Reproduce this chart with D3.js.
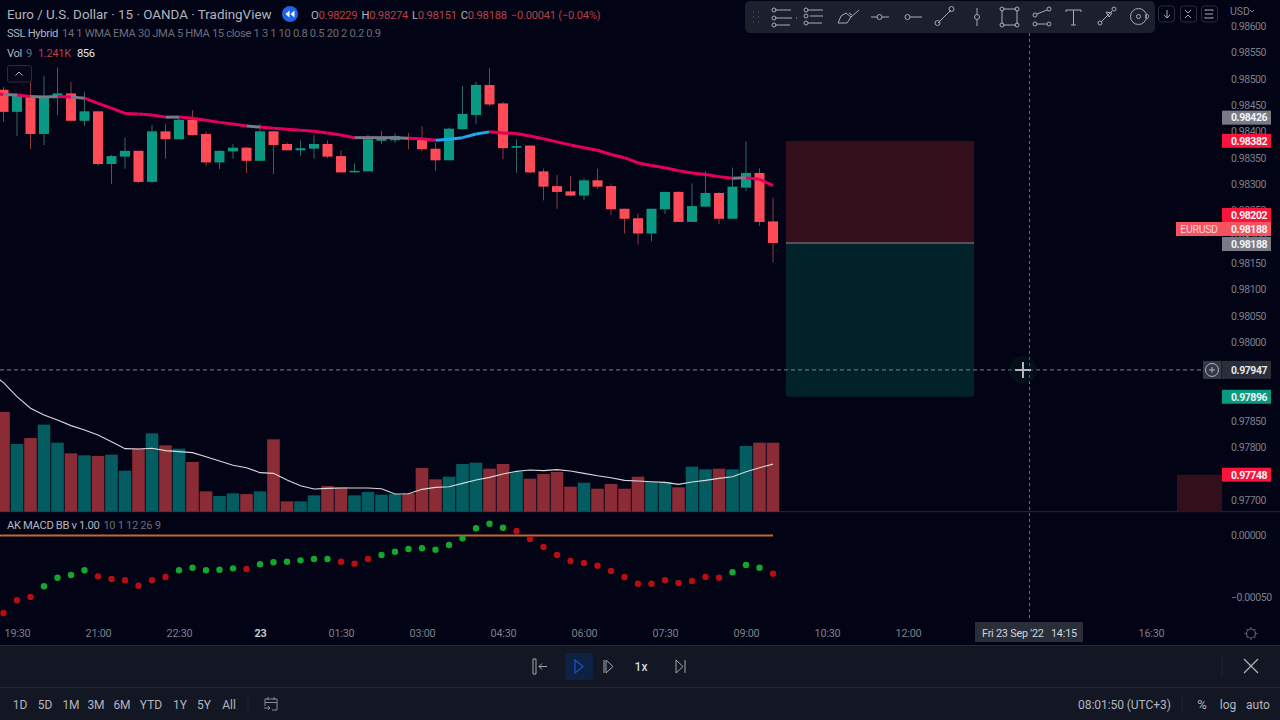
<!DOCTYPE html>
<html>
<head>
<meta charset="utf-8">
<script src="https://cdn.jsdelivr.net/npm/d3@7/dist/d3.min.js"></script>
<style>
  html, body { margin: 0; padding: 0; background: #020314; overflow: hidden; }
  svg { display: block; }
  text { font-family: Roboto, "Noto Sans", sans-serif; }
</style>
</head>
<body>
<script>
// Candles, first bar is Thu 19:15, one bar every 15 minutes
const opens = [0.98479,0.98437,0.98467,0.98395,0.98463,0.98472,0.98420,0.98438,0.98338,0.98352,0.98363,0.98304,0.98400,0.98385,0.98422,0.98395,0.98341,0.98362,0.98369,0.98344,0.98400,0.98376,0.98364,0.98367,0.98376,0.98353,0.98322,0.98324,0.98382,0.98383,0.98388,0.98386,0.98367,0.98345,0.98404,0.98431,0.98488,0.98453,0.98369,0.98373,0.98324,0.98296,0.98286,0.98278,0.98307,0.98296,0.98253,0.98235,0.98206,0.98252,0.98285,0.98228,0.98257,0.98283,0.98234,0.98293,0.98321,0.98229];
const highs = [0.98484,0.98472,0.98497,0.98505,0.98521,0.98494,0.98475,0.98438,0.98355,0.98388,0.98363,0.98412,0.98414,0.98426,0.98440,0.98400,0.98364,0.98376,0.98370,0.98414,0.98401,0.98379,0.98383,0.98393,0.98383,0.98364,0.98339,0.98393,0.98401,0.98396,0.98397,0.98410,0.98378,0.98407,0.98486,0.98494,0.98520,0.98456,0.98385,0.98373,0.98329,0.98317,0.98315,0.98311,0.98329,0.98299,0.98253,0.98244,0.98253,0.98285,0.98286,0.98301,0.98324,0.98285,0.98331,0.98381,0.98330,0.98274];
const lows = [0.98418,0.98391,0.98366,0.98374,0.98431,0.98420,0.98410,0.98334,0.98300,0.98329,0.98302,0.98302,0.98348,0.98385,0.98392,0.98334,0.98328,0.98348,0.98321,0.98344,0.98319,0.98364,0.98353,0.98348,0.98349,0.98322,0.98322,0.98324,0.98376,0.98378,0.98366,0.98362,0.98325,0.98345,0.98404,0.98414,0.98448,0.98347,0.98321,0.98320,0.98269,0.98253,0.98276,0.98269,0.98291,0.98241,0.98206,0.98185,0.98191,0.98243,0.98228,0.98228,0.98257,0.98224,0.98234,0.98287,0.98220,0.98151];
const closes = [0.98437,0.98467,0.98395,0.98467,0.98472,0.98420,0.98438,0.98338,0.98353,0.98363,0.98304,0.98400,0.98385,0.98422,0.98393,0.98341,0.98363,0.98369,0.98344,0.98400,0.98374,0.98364,0.98368,0.98376,0.98352,0.98322,0.98325,0.98385,0.98388,0.98391,0.98385,0.98366,0.98345,0.98405,0.98433,0.98488,0.98451,0.98368,0.98372,0.98322,0.98295,0.98285,0.98278,0.98307,0.98295,0.98252,0.98234,0.98206,0.98253,0.98285,0.98228,0.98258,0.98283,0.98234,0.98295,0.98321,0.98228,0.98188];

// SSL Hybrid baseline and the state of each segment (p pink, g grey, b blue)
const sslBefore = 0.98471;
const sslLine = [0.98470,0.98469,0.98466,0.98465,0.98466,0.98465,0.98463,0.98453,0.98444,0.98434,0.98433,0.98431,0.98427,0.98427,0.98425,0.98421,0.98417,0.98414,0.98410,0.98408,0.98406,0.98404,0.98402,0.98400,0.98397,0.98393,0.98388,0.98388,0.98388,0.98388,0.98387,0.98386,0.98383,0.98385,0.98388,0.98395,0.98399,0.98397,0.98396,0.98391,0.98386,0.98380,0.98374,0.98369,0.98364,0.98356,0.98350,0.98340,0.98335,0.98331,0.98325,0.98321,0.98318,0.98314,0.98311,0.98312,0.98309,0.98297];
const sslState = ("pgpggpg" + "pppppp" + "g" + "ppppp" + "g" + "ppppppp" + "gggg" + "pp" + "bbbb" + "pppppppppppppppppp" + "g" + "pp").split("");

// Volume and its moving average
const volumes = [1794,1218,1326,1566,1242,1050,1014,1002,1026,738,1134,1410,1194,1134,894,366,282,330,318,366,1302,186,186,294,462,438,294,354,306,318,330,786,582,630,858,882,774,858,714,594,678,714,450,522,414,498,414,630,534,534,438,810,762,774,762,1182,1242,1241];
const volBefore = 2500;
const volMa = [2322,2070,1860,1740,1650,1548,1470,1380,1260,1134,1128,1140,1098,1080,1062,990,912,834,792,702,690,570,468,408,420,426,426,426,414,318,324,402,438,450,510,570,618,678,726,750,738,756,732,690,648,612,564,552,540,528,492,534,564,600,630,720,792,856];

// AK MACD BB dots
const macdDots = [-0.00063,-0.000527,-0.0005,-0.000413,-0.000343,-0.000321,-0.000283,-0.000332,-0.000354,-0.000364,-0.000408,-0.000364,-0.000337,-0.000283,-0.000262,-0.000283,-0.000278,-0.000267,-0.000272,-0.000234,-0.000218,-0.000213,-0.000202,-0.000191,-0.000191,-0.000213,-0.000229,-0.000191,-0.000159,-0.000132,-0.00011,-0.000104,-0.000115,-0.000077,-0.000023,0.000059,0.000096,0.000063,0.000037,-0.000028,-0.000093,-0.000159,-0.000207,-0.000224,-0.000246,-0.000289,-0.000337,-0.000392,-0.000392,-0.000364,-0.000386,-0.00037,-0.000337,-0.000343,-0.000299,-0.00024,-0.000262,-0.000311];
const macdUp = ("rrr" + "gggg" + "rrrrrr" + "ggggg" + "r" + "gggggg" + "rrr" + "gggggggggg" + "rrrrrrrrrrrrrrrr" + "ggg" + "r").split("");

// Axis labels
const priceTicks = [0.986,0.9855,0.985,0.9845,0.984,0.9835,0.983,0.9825,0.982,0.9815,0.981,0.9805,0.98,0.9795,0.979,0.9785,0.978,0.977];
const macdTicks = [0,-0.0005];
const timeTickBars = [1,7,13,19,25,31,37,43,49,55,61,67,85];
const timeTickLabels = ["19:30","21:00","22:30","23","01:30","03:00","04:30","06:00","07:30","09:00","10:30","12:00","16:30"];
const rangeLabels = ["1D","5D","1M","3M","6M","YTD","1Y","5Y","All"];
const rangeCenters = [20,45,71,96,122,151,180,204,229];

// Short position tool: stop, entry, target, and the crosshair
const stopPrice = 0.98382, entryPrice = 0.98188, targetPrice = 0.97896;
const cursorBar = 76, cursorPrice = 0.97947;

const width = 1280, height = 720;
const bg = "#020314", upColor = "#0a9a84", downColor = "#ff4a58";

const svg = d3.select("body").append("svg").attr("width", width).attr("height", height);
svg.append("rect").attr("width", width).attr("height", height).attr("fill", bg);

const bars = d3.range(opens.length);
const x = d3.scaleLinear().domain([0, 57]).range([3.5, 773]);
const y = d3.scaleLinear().domain([0.98, 0.986]).range([342, 26]);
const yVol = d3.scaleLinear().domain([0, 1241]).range([511.7, 442.7]);
const yMacd = d3.scaleLinear().domain([0, -0.0005]).range([535.5, 597]);

// position tool
const toolX0 = 786, toolX1 = 974;
svg.append("rect").attr("x", toolX0).attr("y", y(stopPrice)).attr("width", toolX1 - toolX0)
  .attr("height", y(entryPrice) - y(stopPrice)).attr("fill", "#330f1c");
svg.append("rect").attr("x", toolX0).attr("y", y(entryPrice)).attr("width", toolX1 - toolX0)
  .attr("height", y(targetPrice) - y(entryPrice)).attr("fill", "#012228");
svg.append("line").attr("x1", toolX0).attr("x2", toolX1).attr("y1", y(entryPrice)).attr("y2", y(entryPrice))
  .attr("stroke", "#8a8d96").attr("stroke-width", 1);

// pane separator
svg.append("line").attr("x1", 0).attr("x2", width).attr("y1", 511.7).attr("y2", 511.7).attr("stroke", "#262a36");

// volume
const volW = 12.6;
svg.selectAll(".vol").data(bars).enter().append("rect")
  .attr("class", "vol")
  .attr("x", i => x(i) - volW / 2)
  .attr("y", i => yVol(volumes[i]))
  .attr("width", volW)
  .attr("height", i => yVol(0) - yVol(volumes[i]))
  .attr("fill", i => closes[i] >= opens[i] ? "#025c60" : "#8a2b36");

svg.append("path")
  .datum([volBefore].concat(volMa))
  .attr("fill", "none").attr("stroke", "#d9d9dc").attr("stroke-width", 1.1)
  .attr("d", d3.line().x((d, i) => x(i - 1)).y(d => yVol(d)));

// candles
svg.selectAll(".wick").data(bars).enter().append("line")
  .attr("class", "wick")
  .attr("x1", i => x(i)).attr("x2", i => x(i))
  .attr("y1", i => y(highs[i])).attr("y2", i => y(lows[i]))
  .attr("stroke", i => closes[i] >= opens[i] ? "#2f6a62" : "#8a3a42")
  .attr("stroke-width", 1);
svg.selectAll(".body").data(bars).enter().append("rect")
  .attr("class", "body")
  .attr("x", i => x(i) - 5)
  .attr("y", i => y(Math.max(opens[i], closes[i])))
  .attr("width", 10)
  .attr("height", i => Math.max(1, Math.abs(y(opens[i]) - y(closes[i]))))
  .attr("fill", i => closes[i] >= opens[i] ? upColor : downColor);

// SSL baseline, one segment per bar so it can change colour
const sslColor = { p: "#e6005c", g: "#787b86", b: "#1fa8ee" };
const sslAll = [sslBefore].concat(sslLine);
svg.selectAll(".ssl").data(d3.range(sslLine.length)).enter().append("line")
  .attr("class", "ssl")
  .attr("x1", i => x(i - 1)).attr("x2", i => x(i))
  .attr("y1", i => y(sslAll[i])).attr("y2", i => y(sslAll[i + 1]))
  .attr("stroke", i => sslColor[sslState[i]])
  .attr("stroke-width", 3);

// MACD
svg.append("line").attr("x1", 0).attr("x2", x(57)).attr("y1", yMacd(0)).attr("y2", yMacd(0))
  .attr("stroke", "#c0692f").attr("stroke-width", 2);
svg.selectAll(".dot").data(bars).enter().append("circle")
  .attr("class", "dot")
  .attr("cx", i => x(i)).attr("cy", i => yMacd(macdDots[i])).attr("r", 3.2)
  .attr("fill", i => macdUp[i] === "g" ? "#12a82e" : "#b80d12");

// crosshair
const cx = x(cursorBar), cy = y(cursorPrice);
svg.append("line").attr("x1", cx).attr("x2", cx).attr("y1", 33).attr("y2", 620)
  .attr("stroke", "#6a6e79").attr("stroke-dasharray", "3 3");
svg.append("line").attr("x1", 0).attr("x2", 1204).attr("y1", cy).attr("y2", cy)
  .attr("stroke", "#7d808b").attr("stroke-dasharray", "4 3");
svg.append("circle").attr("cx", 1023).attr("cy", cy).attr("r", 14).attr("fill", "#0a2a22").attr("opacity", 0.35);
svg.append("path").attr("d", "M1023 362V378M1015 370H1031").attr("stroke", "#b4b6bc").attr("stroke-width", 2);

// price axes
const axisColor = "#7d808b";
function styleAxis(g) {
  g.select(".domain").remove();
  g.selectAll(".tick line").remove();
  g.selectAll("text").attr("fill", axisColor).attr("font-size", 10.5).attr("letter-spacing", -0.45)
    .attr("x", 0).attr("font-family", "Roboto");
}
svg.append("g").attr("transform", "translate(1231,0)")
  .call(d3.axisRight(y).tickValues(priceTicks).tickFormat(d3.format(".5f")))
  .call(styleAxis);
svg.append("g").attr("transform", "translate(1231,0)")
  .call(d3.axisRight(yMacd).tickValues(macdTicks).tickFormat(d => d < 0 ? "\u2212" + d3.format(".5f")(-d) : d3.format(".5f")(d)))
  .call(styleAxis);

// price tags, tagY is where the tag sits once the stack has pushed it aside
function tag(price, color, tagY) {
  svg.append("rect").attr("x", 1222).attr("y", tagY - 7).attr("width", 49).attr("height", 14).attr("fill", color);
  svg.append("text").attr("x", 1231).attr("y", tagY + 3.8).attr("font-size", 10.5).attr("letter-spacing", -0.45)
    .attr("font-weight", 700).attr("fill", "#f2f3f5").text(d3.format(".5f")(price));
}
svg.append("rect").attr("x", 1177).attr("y", y(0.97748)).attr("width", 45).attr("height", 511.7 - y(0.97748)).attr("fill", "#330f1c");
tag(0.98426, "#787b86", y(0.98426));
tag(stopPrice, "#f7153c", y(stopPrice));
tag(0.98202, "#f7153c", 215);
svg.append("rect").attr("x", 1176).attr("y", 222).attr("width", 46).attr("height", 14).attr("fill", "#f7525f");
svg.append("text").attr("x", 1199).attr("y", 233).attr("text-anchor", "middle").attr("font-size", 10.5)
  .attr("letter-spacing", -0.3).attr("fill", "#ffd5d9").text("EURUSD");
tag(0.98188, "#f7525f", 229);
tag(entryPrice, "#787b86", 244);
tag(targetPrice, "#089981", y(targetPrice));
tag(0.97748, "#f7153c", y(0.97748));
svg.append("rect").attr("x", 1203).attr("y", cy - 9).attr("width", 18.5).attr("height", 18).attr("fill", "#343844");
svg.append("rect").attr("x", 1222).attr("y", cy - 9).attr("width", 49).attr("height", 18).attr("fill", "#2a2e39");
svg.append("text").attr("x", 1231).attr("y", cy + 3.8).attr("font-size", 10.5).attr("letter-spacing", -0.45)
  .attr("font-weight", 700).attr("fill", "#e6e7ea").text(d3.format(".5f")(cursorPrice));
svg.append("circle").attr("cx", 1212).attr("cy", cy).attr("r", 6.5).attr("fill", "none").attr("stroke", "#b2b5be");
svg.append("path").attr("d", `M1209 ${cy}H1215M1212 ${cy - 3}V${cy + 3}`).attr("stroke", "#b2b5be");

// time axis
const timeAxis = svg.append("g").attr("transform", "translate(0,620)")
  .call(d3.axisBottom(x).tickValues(timeTickBars).tickFormat((d, i) => timeTickLabels[i]));
timeAxis.select(".domain").remove();
timeAxis.selectAll(".tick line").remove();
timeAxis.selectAll("text").attr("y", 9).attr("dy", "0.71em").attr("font-size", 10.8).attr("font-family", "Roboto")
  .attr("letter-spacing", -0.2)
  .attr("fill", d => d === 19 ? "#c8cad0" : axisColor)
  .attr("font-weight", d => d === 19 ? 700 : 400);
svg.append("rect").attr("x", 975).attr("y", 622).attr("width", 108).attr("height", 20).attr("fill", "#2a2e39");
svg.append("text").attr("x", 982).attr("y", 637).attr("font-size", 10.8).attr("letter-spacing", -0.2).attr("fill", "#d1d4dc").text("Fri 23 Sep '22");
svg.append("text").attr("x", 1051).attr("y", 637).attr("font-size", 10.8).attr("letter-spacing", -0.2).attr("fill", "#d1d4dc").text("14:15");

// gear
svg.append("circle").attr("cx", 1251).attr("cy", 633.5).attr("r", 4.5).attr("fill", "none").attr("stroke", "#5f636e").attr("stroke-width", 1.2);
svg.append("path").attr("d", "M1251 627V629M1251 638V640M1244.5 633.5H1246.5M1255.5 633.5H1257.5M1246.5 629L1248 630.5M1254 636.5L1255.5 638M1246.5 638L1248 636.5M1254 630.5L1255.5 629")
  .attr("stroke", "#5f636e");

// legends
function runs(px, py, size, spacing, parts) {
  const t = svg.append("text").attr("x", px).attr("y", py).attr("font-size", size).attr("letter-spacing", spacing);
  parts.forEach(p => t.append("tspan").attr("fill", p[1]).attr("dx", p[2] || 0).text(p[0]));
}
const bright = "#b2b5be", dim = "#6a6d78", red = "#b8404a";
runs(7, 19, 13.4, 0, [["Euro / U.S. Dollar \u00b7 15 \u00b7 OANDA \u00b7 TradingView", bright]]);
svg.append("circle").attr("cx", 290).attr("cy", 14).attr("r", 8).attr("fill", "#1e63e8");
svg.append("path").attr("d", "M289.5 10.5L285.5 14L289.5 17.5ZM294.5 10.5L290.5 14L294.5 17.5Z").attr("fill", "#fff");
runs(311, 18.5, 11.2, -0.25, [["O", bright], ["0.98229", red], ["H", bright, 4], ["0.98274", red], ["L", bright, 4], ["0.98151", red], ["C", bright, 4], ["0.98188", red], ["\u22120.00041 (\u22120.04%)", red, 4]]);
runs(7, 37, 11.2, -0.35, [["SSL Hybrid", bright], ["14 1 WMA EMA 30 JMA 5 HMA 15 close 1 3 1 10 0.8 0.5 20 2 0.2 0.9", dim, 4]]);
runs(7, 57, 11.2, -0.35, [["Vol", bright], ["9", dim, 4], ["1.241K", red, 6], ["856", "#e6e7ea", 6]]);
runs(7, 529, 11.2, -0.35, [["AK MACD BB v 1.00", bright], ["10 1 12 26 9", dim, 4]]);

// collapse button
svg.append("rect").attr("x", 7.5).attr("y", 65.5).attr("width", 24).attr("height", 16.5).attr("rx", 2)
  .attr("fill", "#06071a").attr("stroke", "#2a2e39");
svg.append("path").attr("d", "M15.5 75.5L19 72L22.5 75.5").attr("fill", "none").attr("stroke", "#b2b5be");

// drawing toolbar
const iconStroke = "#a8abb4";
svg.append("rect").attr("x", 745).attr("y", 1).attr("width", 410).attr("height", 32).attr("rx", 5).attr("fill", "#1c202c");
const toolbarIcons = [
  "M775 10H791M775 18H792M775 25H790M796 18h1M772 10a2 2 0 1 0 4 0a2 2 0 1 0 -4 0M772 25a2 2 0 1 0 4 0a2 2 0 1 0 -4 0M772 18a2 2 0 1 0 4 0a2 2 0 1 0 -4 0",
  "M808 10H823M810 16H823M808 23H822M804 10a2 2 0 1 0 4 0a2 2 0 1 0 -4 0M804 16a2 2 0 1 0 4 0a2 2 0 1 0 -4 0M804 23a2 2 0 1 0 4 0a2 2 0 1 0 -4 0",
  "M838 23H847L851 17L846 13L841 16ZM851 17L859 10M849 13L852 15",
  "M871 17H877M882 17H889M877 17a2.5 2.5 0 1 0 5 0a2.5 2.5 0 1 0 -5 0",
  "M905 17a2.5 2.5 0 1 0 5 0a2.5 2.5 0 1 0 -5 0M910 17H922",
  "M938 23L951 10M935 23a2.5 2.5 0 1 0 5 0a2.5 2.5 0 1 0 -5 0M949 9a2.5 2.5 0 1 0 5 0a2.5 2.5 0 1 0 -5 0",
  "M977 8V14M977 20V26M974.5 17a2.5 2.5 0 1 0 5 0a2.5 2.5 0 1 0 -5 0",
  "M1003 9H1016M1003 25H1016M1002 10V24M1017 10V24M1000 9a2 2 0 1 0 4 0a2 2 0 1 0 -4 0M1015 9a2 2 0 1 0 4 0a2 2 0 1 0 -4 0M1000 25a2 2 0 1 0 4 0a2 2 0 1 0 -4 0M1015 25a2 2 0 1 0 4 0a2 2 0 1 0 -4 0",
  "M1037 14L1047 10M1037 24H1047M1033 15a2 2 0 1 0 4 0a2 2 0 1 0 -4 0M1047 9a2 2 0 1 0 4 0a2 2 0 1 0 -4 0M1033 24a2 2 0 1 0 4 0a2 2 0 1 0 -4 0M1047 24a2 2 0 1 0 4 0a2 2 0 1 0 -4 0",
  "M1066 10H1081M1073.5 10V25M1071 25H1076M1066 10V12M1081 10V12",
  "M1101 22L1112 11M1098 23a2 2 0 1 0 4 0a2 2 0 1 0 -4 0M1112 9a2 2 0 1 0 4 0a2 2 0 1 0 -4 0M1106 12L1112 13L1109 17Z",
  "M1130.5 16.5a8 8 0 1 0 16 0a8 8 0 1 0 -16 0M1136.5 16.5a2 2 0 1 0 4 0a2 2 0 1 0 -4 0M1145.5 16.5a1.6 1.6 0 1 0 3 0a1.6 1.6 0 1 0 -3 0"
];
svg.selectAll(".tb").data(toolbarIcons).enter().append("path")
  .attr("class", "tb").attr("d", d => d).attr("fill", "none").attr("stroke", iconStroke).attr("stroke-width", 1);
svg.append("path").attr("d", "M753 12h1M758 12h1M753 17h1M758 17h1M753 22h1M758 22h1").attr("stroke", "#4a4e5a").attr("stroke-width", 1.5);
[1166, 1188, 1209].forEach((bx, i) => {
  svg.append("rect").attr("x", bx - 7.5).attr("y", 6).attr("width", 16).attr("height", 16).attr("rx", 3)
    .attr("fill", "none").attr("stroke", "#2a2e39");
  svg.append("path").attr("fill", "none").attr("stroke", iconStroke)
    .attr("d", ["M1167 10V18M1164 15L1167 18L1170 15", "M1185 10L1188 13L1191 10M1185 18L1188 15L1191 18", "M1205 11V10H1213V11M1205 17V18H1213V17M1205 14H1213"][i]);
});
svg.append("text").attr("x", 1230).attr("y", 15).attr("font-size", 10.5).attr("fill", axisColor).text("USD");
svg.append("path").attr("d", "M1250 10L1252 12L1254 10").attr("fill", "none").attr("stroke", axisColor);

// replay bar and bottom bar
svg.append("rect").attr("x", 0).attr("y", 645).attr("width", width).attr("height", 75).attr("fill", "#131723");
svg.append("line").attr("x1", 0).attr("x2", width).attr("y1", 645.5).attr("y2", 645.5).attr("stroke", "#232733");
svg.append("line").attr("x1", 0).attr("x2", width).attr("y1", 687.5).attr("y2", 687.5).attr("stroke", "#232733");
svg.append("rect").attr("x", 565).attr("y", 653).attr("width", 28).attr("height", 27).attr("rx", 3).attr("fill", "#0d2142");
svg.append("path").attr("d", "M575 660L583 666.5L575 673Z").attr("fill", "none").attr("stroke", "#1e4fbf").attr("stroke-width", 1.3);
svg.append("path").attr("fill", "none").attr("stroke", "#a3a6af")
  .attr("d", "M533 659H536V674H533ZM547 666.5H539M542 663.5L539 666.5L542 669.5M604 660V673M606 660L613 666.5L606 673ZM676 660L683 666.5L676 673ZM685 660V673");
svg.append("text").attr("x", 641).attr("y", 670.5).attr("text-anchor", "middle").attr("font-size", 12).attr("font-weight", 500).attr("fill", "#d1d4dc").text("1x");
svg.append("path").attr("d", "M1244 659L1258 673M1258 659L1244 673").attr("stroke", "#b2b5be").attr("stroke-width", 1.2);
svg.append("line").attr("x1", 1222).attr("x2", 1222).attr("y1", 656).attr("y2", 676).attr("stroke", "#232733");

svg.selectAll(".range").data(rangeLabels).enter().append("text")
  .attr("class", "range")
  .attr("x", (d, i) => rangeCenters[i]).attr("y", 708.5)
  .attr("text-anchor", "middle").attr("font-size", 12).attr("fill", "#b2b5be").text(d => d);
svg.append("line").attr("x1", 248).attr("x2", 248).attr("y1", 695).attr("y2", 713).attr("stroke", "#232733");
svg.append("path").attr("d", "M265 699H277V710H272M265 699V706M265 702.5H277M268 697V700M274 697V700M264 708H270M268 706L270 708L268 710")
  .attr("fill", "none").attr("stroke", "#8a8d96");

svg.append("text").attr("x", 1078).attr("y", 708.5).attr("font-size", 12).attr("letter-spacing", -0.05).attr("fill", "#b2b5be").text("08:01:50 (UTC+3)");
svg.append("line").attr("x1", 1182).attr("x2", 1182).attr("y1", 695).attr("y2", 713).attr("stroke", "#232733");
svg.append("text").attr("x", 1202).attr("y", 708.5).attr("text-anchor", "middle").attr("font-size", 13).attr("fill", "#b2b5be").text("%");
svg.append("text").attr("x", 1228).attr("y", 708.5).attr("text-anchor", "middle").attr("font-size", 12).attr("fill", "#b2b5be").text("log");
svg.append("text").attr("x", 1258).attr("y", 708.5).attr("text-anchor", "middle").attr("font-size", 12).attr("fill", "#b2b5be").text("auto");
</script>
</body>
</html>
